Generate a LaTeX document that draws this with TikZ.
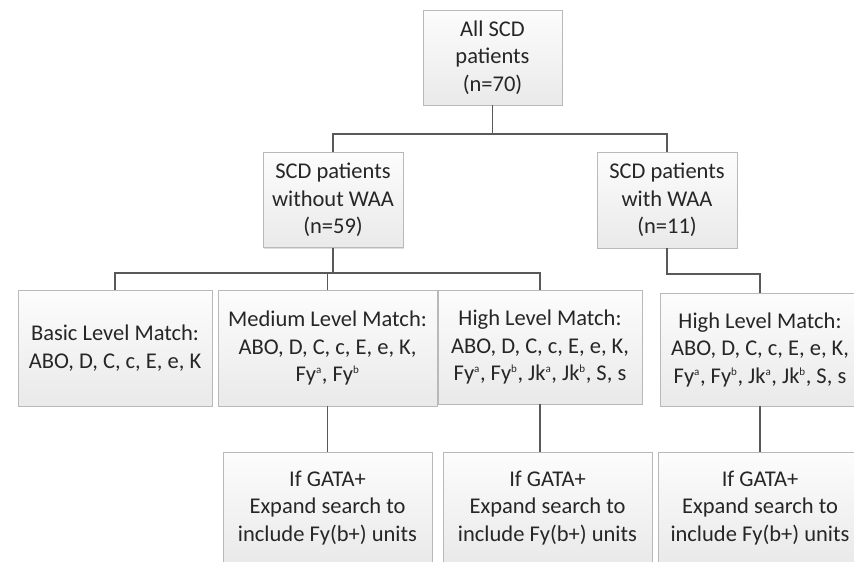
\documentclass[tikz,border=0pt]{standalone}
\usepackage{fontspec}
\setmainfont{Carlito}
\usetikzlibrary{shadows}
\newcommand{\sps}[1]{\textsuperscript{\fontsize{11}{11}\selectfont #1}}
\begin{document}
\begin{tikzpicture}[x=1pt,y=-1pt,
  box/.style={draw=gray!55, line width=0.6pt, top color=gray!2, bottom color=gray!17,
    rectangle, inner sep=0pt, align=center, text=black!85,
    font=\fontsize{22.5}{27.5}\selectfont,
    drop shadow={shadow xshift=1.2pt, shadow yshift=-1.2pt, fill=gray!45, opacity=0.6}},
  link/.style={draw=black!65, line width=1.4pt}]
\useasboundingbox (0,0) rectangle (854,562);
\clip (0,0) rectangle (854,562);
\node[box, minimum width=139pt, minimum height=95pt] (top) at (492.5,57.5) {All SCD\\patients\\(n=70)};
\node[box, minimum width=140pt, minimum height=95pt] (wo) at (333,200) {SCD patients\\without WAA\\(n=59)};
\node[box, minimum width=140pt, minimum height=96pt] (wi) at (667,200) {SCD patients\\with WAA\\(n=11)};
\node[box, minimum width=194pt, minimum height=116pt] (basic) at (115,348) {Basic Level Match:\\ABO, D, C, c, E, e, K};
\node[box, minimum width=219pt, minimum height=116pt] (med) at (327.5,348) {Medium Level Match:\\ABO, D, C, c, E, e, K,\\Fy\sps{a}, Fy\sps{b}};
\node[box, minimum width=204pt, minimum height=114pt] (high) at (540,347) {High Level Match:\\ABO, D, C, c, E, e, K,\\Fy\sps{a}, Fy\sps{b}, Jk\sps{a}, Jk\sps{b}, S, s};
\node[box, minimum width=200pt, minimum height=113pt] (highr) at (760,349.5) {High Level Match:\\ABO, D, C, c, E, e, K,\\Fy\sps{a}, Fy\sps{b}, Jk\sps{a}, Jk\sps{b}, S, s};
\node[box, minimum width=209pt, minimum height=112pt] (g1) at (327.5,508) {If GATA+\\Expand search to\\include Fy(b+) units};
\node[box, minimum width=209pt, minimum height=112pt] (g2) at (547.5,508) {If GATA+\\Expand search to\\include Fy(b+) units};
\node[box, minimum width=204pt, minimum height=112pt] (g3) at (760,508) {If GATA+\\Expand search to\\include Fy(b+) units};
\coordinate (b1) at (492.5,134);
\coordinate (b2) at (333,273);
\draw[link] (top.south) -- (b1);
\draw[link] (b1) -| (wo.north);
\draw[link] (b1) -| (wi.north);
\draw[link] (wo.south) -- (b2);
\draw[link] (b2) -| (basic.north);
\draw[link] (b2) -| (med.north);
\draw[link] (b2) -| (high.north);
\draw[link] (wi.south) |- (760,274) -- (highr.north);
\draw[link] (med.south) -- (g1.north);
\draw[link] (high.south) -- (high.south |- g2.north);
\draw[link] (highr.south) -- (g3.north);
\end{tikzpicture}
\end{document}
